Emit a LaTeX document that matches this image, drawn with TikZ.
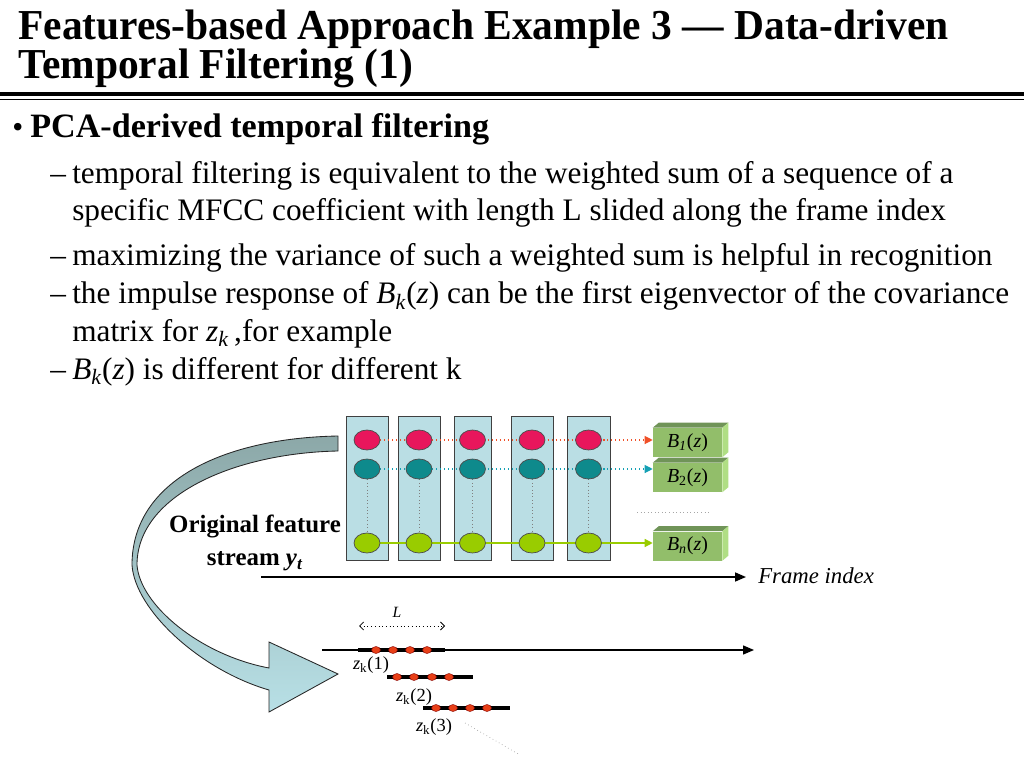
\documentclass[tikz,border=0pt]{standalone}
\usepackage{fontspec}
\setmainfont{Liberation Serif}
\usetikzlibrary{arrows.meta,shapes.geometric}
\newcommand{\pxl}[1]{#1*0.703125pt}
\pgfdeclarelayer{cols}
\pgfdeclarelayer{links}
\pgfsetlayers{cols,links,main}
\definecolor{colblue}{RGB}{186,222,228}
\definecolor{cred}{RGB}{232,22,92}
\definecolor{cteal}{RGB}{14,138,140}
\definecolor{cgreen}{RGB}{153,204,0}
\definecolor{lred}{RGB}{240,80,40}
\definecolor{lteal}{RGB}{20,160,180}
\definecolor{bfrontc}{RGB}{146,190,106}
\definecolor{btopc}{RGB}{112,148,88}
\definecolor{bsidec}{RGB}{176,222,132}
\definecolor{arrtop}{RGB}{140,168,168}
\definecolor{arrbot}{RGB}{184,224,230}
\definecolor{dotred}{RGB}{232,64,24}
\tikzset{
  txt/.style={anchor=base west, inner sep=0, font=\fontsize{22}{26}\selectfont},
  ttl/.style={anchor=base west, inner sep=0, font=\fontsize{30}{34}\selectfont\bfseries},
  col/.style={rectangle, draw=black!75, fill=colblue, line width=0.7pt, inner sep=0, minimum height=\pxl{144}},
  circ/.style={ellipse, draw=black!70, line width=0.5pt, inner sep=0, minimum width=\pxl{26}, minimum height=\pxl{20}},
  bbox/.style={rectangle, fill=bfrontc, inner sep=0, minimum width=\pxl{69}, minimum height=\pxl{29}, font=\fontsize{14}{16}\selectfont},
  seg/.style={line width=\pxl{3.5}},
  rdot/.style={ellipse, fill=dotred, draw=red!50!black, line width=0.3pt, inner sep=0, minimum width=\pxl{9}, minimum height=\pxl{7}},
  zlab/.style={inner sep=0, font=\fontsize{13}{15}\selectfont},
  axis/.style={line width=\pxl{1.6}, -{Triangle[length=\pxl{11}, width=\pxl{9}]}},
}
\newcommand{\threeD}[1]{%
  \fill[btopc] (#1.north west) -- ++(6,-5) -- ([shift={(6,-5)}]#1.north east) -- (#1.north east) -- cycle;
  \fill[bsidec] (#1.north east) -- ++(6,-5) -- ([shift={(6,-5)}]#1.south east) -- (#1.south east) -- cycle;}
\begin{document}
\begin{tikzpicture}[x=0.703125pt, y=-0.703125pt]
\useasboundingbox (0,0) rectangle (1024,768);
% title
\node[ttl] (t1) at (18,40) {\scalebox{0.972}[1]{Features-based Approach Example 3 — Data-driven}};
\node[ttl] (t2) at (18,78.5) {\scalebox{0.972}[1]{Temporal Filtering (1)}};
\draw[line width=\pxl{4}] (0,94) -- (1024,94);
\draw[line width=\pxl{1.5}] (0,99.5) -- (1024,99.5);
% body
\node[txt] (bul) at (12,138) {•};
\node[txt, font=\fontsize{24}{28}\selectfont\bfseries] (h0) at (30,138) {PCA-derived temporal filtering};
\node[txt] (d1) at (50,184) {–};
\node[txt] (l1a) at (72,184) {temporal filtering is equivalent to the weighted sum of a sequence of a};
\node[txt] (l1b) at (72,221) {specific MFCC coefficient with length L slided along the frame index};
\node[txt] (d2) at (50,266) {–};
\node[txt] (l2) at (72,266) {maximizing the variance of such a weighted sum is helpful in recognition};
\node[txt] (d3) at (50,304) {–};
\node[txt] (l3a) at (72,304) {the impulse response of \textit{B}\textsubscript{\textit{k}}(\textit{z}) can be the first eigenvector of the covariance};
\node[txt] (l3b) at (72,341) {matrix for \textit{z}\textsubscript{\textit{k}}\,,for example};
\node[txt] (d4) at (50,379) {–};
\node[txt] (l4) at (72,379) {\textit{B}\textsubscript{\textit{k}}(\textit{z}) is different for different k};
% curved arrow
\path[draw=black!85, line width=0.6pt, top color=arrtop, bottom color=arrbot]
  (338,436) .. controls (225,438) and (132,480) .. (132,565)
  .. controls (135,610) and (200,670) .. (269,690)
  -- (269,712) -- (338,674) -- (269,642) -- (269,668)
  .. controls (200,655) and (140,605) .. (137,565)
  .. controls (137,495) and (235,453) .. (338,451) -- cycle;
\node[inner sep=0, align=center, font=\fontsize{17.5}{23}\selectfont\bfseries] (orig) at (255,543) {Original feature\\stream \textit{y}\textsubscript{\textit{t}}};
% columns
\begin{pgfonlayer}{cols}
\node[col, minimum width=\pxl{42}] (c1) at (367,488) {};
\node[col, minimum width=\pxl{42}] (c2) at (419,488) {};
\node[col, minimum width=\pxl{37}] (c3) at (472.5,488) {};
\node[col, minimum width=\pxl{42}] (c4) at (532,488) {};
\node[col, minimum width=\pxl{43}] (c5) at (588.5,488) {};
\end{pgfonlayer}
\foreach \i/\x in {1/367,2/419,3/472.5,4/532,5/588.5}{
  \node[circ, fill=cred] (r\i) at (\x,440) {};
  \node[circ, fill=cteal] (m\i) at (\x,469) {};
  \node[circ, fill=cgreen] (g\i) at (\x,543) {};
}
% B boxes
\node[bbox] (b1) at (687.5,442.5) {\textit{B\textsubscript{1}}(\textit{z})};
\threeD{b1}
\node[bbox] (b2) at (687.5,477.5) {\textit{B}\textsubscript{2}(\textit{z})};
\threeD{b2}
\node[bbox] (bn) at (687.5,546) {\textit{B\textsubscript{n}}(\textit{z})};
\threeD{bn}
\draw[gray!70, dotted, line width=0.5pt] (637,512) -- (710,512);
% links
\begin{pgfonlayer}{links}
\draw[lred, dotted, line width=0.8pt, -{Triangle[length=\pxl{8}, width=\pxl{8}]}] (r1.east) -- (r1.east -| b1.west);
\draw[lteal, dotted, line width=0.8pt, -{Triangle[length=\pxl{8}, width=\pxl{8}]}] (m1.east) -- (m1.east -| b2.west);
\draw[cgreen, line width=0.9pt, -{Triangle[length=\pxl{8}, width=\pxl{8}]}] (g1.east) -- (g1.east -| bn.west);
\foreach \i in {1,...,5}{\draw[gray, dotted, line width=0.4pt] (m\i.south) -- (g\i.north);}
\end{pgfonlayer}
% frame index
\coordinate (fa) at (261,577);
\coordinate (fb) at (746,577);
\draw[axis] (fa) -- (fb);
\node[anchor=base west, inner sep=0, font=\fontsize{16}{18}\selectfont\itshape] (fi) at (758,583) {Frame index};
% lower time line
\coordinate (za) at (322,650);
\coordinate (zb) at (754,650);
\draw[axis, line width=\pxl{1.3}] (za) -- (zb);
\coordinate (s1a) at (358,650); \coordinate (s1b) at (445,650);
\coordinate (s2a) at (387,677); \coordinate (s2b) at (473,677);
\coordinate (s3a) at (423,708); \coordinate (s3b) at (510,708);
\draw[seg] (s1a) -- (s1b);
\draw[seg] (s2a) -- (s2b);
\draw[seg] (s3a) -- (s3b);
\foreach \x [count=\j] in {376,393,410,427}{\node[rdot] (p1\j) at (\x,650) {};}
\foreach \x [count=\j] in {397,414,432,449}{\node[rdot] (p2\j) at (\x,677) {};}
\foreach \x [count=\j] in {436,453,470,487}{\node[rdot] (p3\j) at (\x,708) {};}
\node[zlab] (z1) at (371,665) {\textit{z}\textsubscript{k}(1)};
\node[zlab] (z2) at (414,697) {\textit{z}\textsubscript{k}(2)};
\node[zlab] (z3) at (434,727) {\textit{z}\textsubscript{k}(3)};
\coordinate (la) at (359,626); \coordinate (lb) at (445,626);
\draw[dotted, line width=0.6pt, {Straight Barb[length=\pxl{4}, width=\pxl{8}]}-{Straight Barb[length=\pxl{4}, width=\pxl{8}]}] (la) -- (lb);
\node[inner sep=0, font=\fontsize{11}{13}\selectfont\itshape] (lL) at (397,612) {L};
\coordinate (da) at (465,723); \coordinate (db) at (520,755);
\draw[gray!70, dotted, line width=0.5pt] (da) -- (db);
\end{tikzpicture}
\end{document}
